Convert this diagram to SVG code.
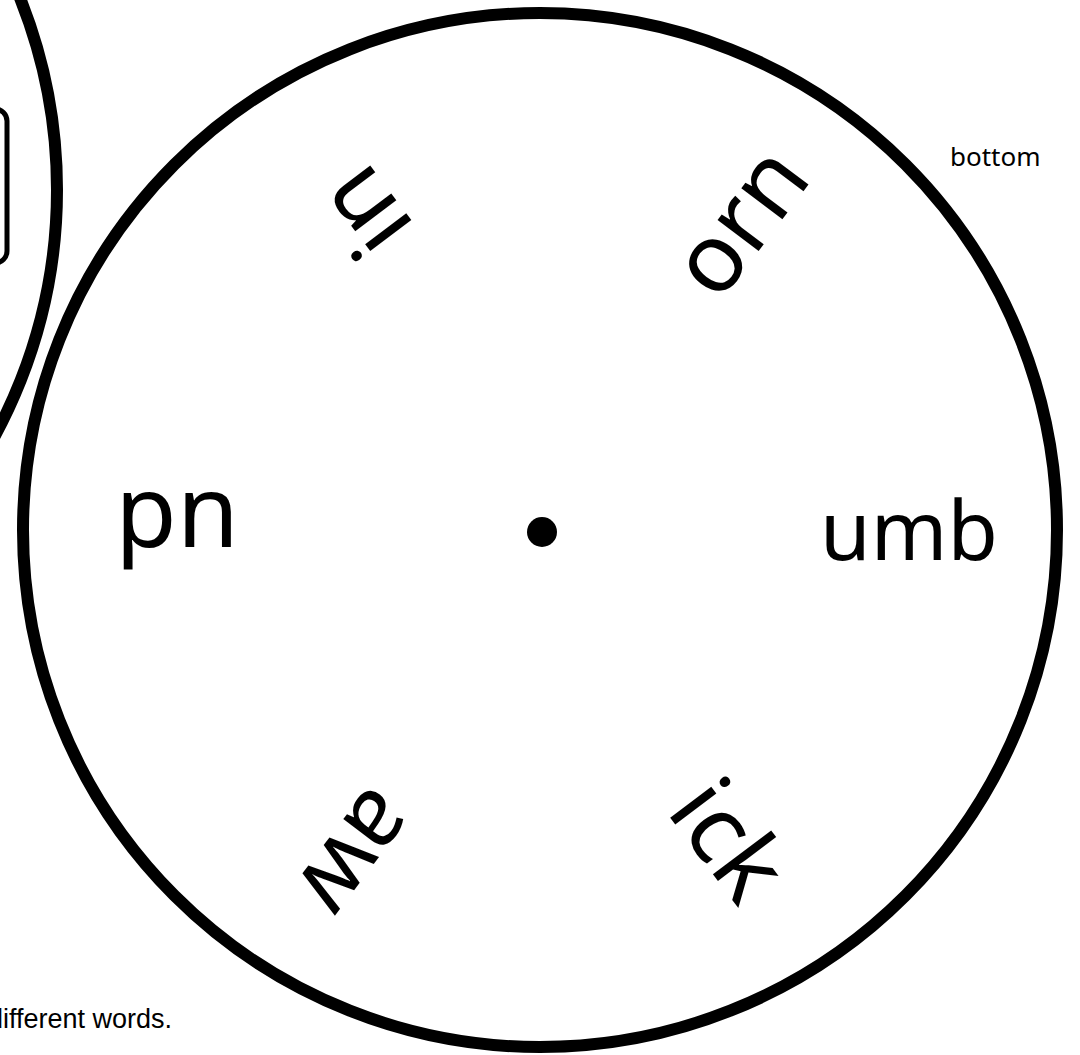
<svg xmlns="http://www.w3.org/2000/svg" width="1080" height="1055" viewBox="0 0 1080 1055">
<style>
.ring{fill:none;stroke:#000;stroke-width:12}
.box{fill:none;stroke:#000;stroke-width:5}
.w{font-family:"Noto Sans","Open Sans",sans-serif;fill:#000;text-anchor:middle}
.lbl{font-family:"Noto Sans","Open Sans",sans-serif;fill:#000;font-size:26px}
.note{font-family:"Liberation Sans",Arial,sans-serif;fill:#000;font-size:27px}
</style>
<rect width="1080" height="1055" fill="#fff"/>
<g id="top-wheel">
  <circle class="ring" cx="-460" cy="190" r="517"/>
  <rect class="box" x="-100" y="109" width="107" height="154" rx="12"/>
</g>
<g id="bottom-wheel">
  <circle class="ring" cx="540" cy="530" r="517"/>
  <circle cx="542" cy="532" r="15" fill="#000"/>
</g>
<g id="ending-umb"><text class="w" x="909" y="560" font-size="82">umb</text></g>
<g id="ending-ick" transform="translate(722,845) rotate(53)"><text class="w" x="0" y="25" font-size="96">ick</text></g>
<g id="ending-aw" transform="translate(352,849) rotate(127)"><text class="w" x="0" y="25" font-size="96">aw</text></g>
<g id="ending-ud" transform="translate(177,520) rotate(180)"><text class="w" x="0" y="27" font-size="100">ud</text></g>
<g id="ending-in" transform="translate(371,208) rotate(233)"><text class="w" x="0" y="25" font-size="96">in</text></g>
<g id="ending-orn" transform="translate(746,226) rotate(307)"><text class="w" x="0" y="25" font-size="96">orn</text></g>
<g id="label-bottom"><text class="lbl" x="950" y="166">bottom</text></g>
<g id="note"><text class="note" x="-12" y="1028">different words.</text></g>
</svg>
